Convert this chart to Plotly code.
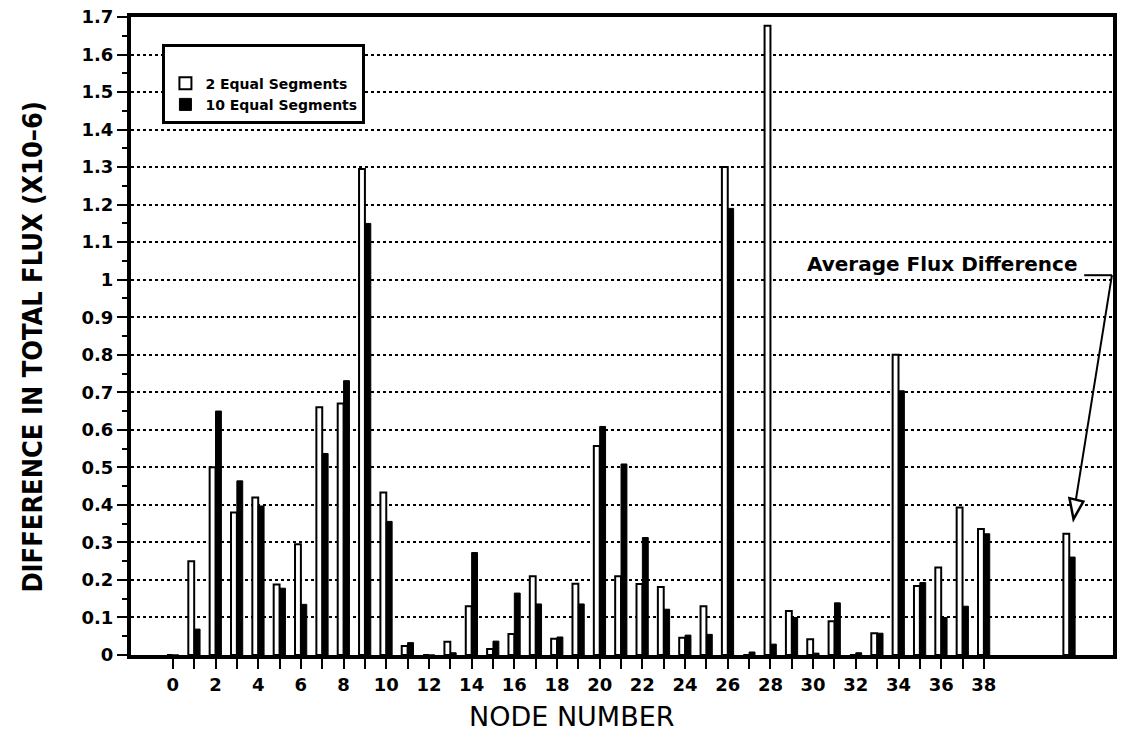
import plotly.graph_objects as go

# ---- data ----
nodes = list(range(0, 39))
avg_pos = 42
two_seg = [0.0, 0.25, 0.50, 0.38, 0.42, 0.188, 0.295, 0.66, 0.67, 1.295,
           0.433, 0.024, 0.0, 0.035, 0.13, 0.016, 0.056, 0.21, 0.043, 0.19,
           0.557, 0.21, 0.189, 0.181, 0.046, 0.13, 1.30, 0.0, 1.677, 0.117,
           0.042, 0.09, 0.0, 0.058, 0.80, 0.184, 0.233, 0.393, 0.336]
ten_seg = [0.0, 0.069, 0.65, 0.464, 0.397, 0.178, 0.135, 0.537, 0.731, 1.15,
           0.356, 0.033, 0.0, 0.006, 0.273, 0.037, 0.165, 0.136, 0.048, 0.136,
           0.609, 0.509, 0.313, 0.122, 0.053, 0.055, 1.19, 0.008, 0.029, 0.10,
           0.005, 0.139, 0.006, 0.058, 0.704, 0.193, 0.10, 0.13, 0.323]
avg_two = 0.323
avg_ten = 0.261

x_tickvals = list(range(0, 39))
x_ticktext = [str(i) if i % 2 == 0 else "" for i in x_tickvals]

xs = nodes + [avg_pos]
font_bold = "DejaVu Sans"

fig = go.Figure()
fig.add_trace(go.Bar(
    x=xs, y=two_seg + [avg_two], name="2 Equal Segments",
    marker=dict(color="white", line=dict(color="black", width=2)),
))
fig.add_trace(go.Bar(
    x=xs, y=ten_seg + [avg_ten], name="10 Equal Segments",
    marker=dict(color="black", line=dict(color="black", width=1)),
))

fig.update_layout(
    width=1123, height=736,
    margin=dict(l=131, r=6, t=15, b=81),
    paper_bgcolor="white", plot_bgcolor="white",
    barmode="group", bargap=0.45, bargroupgap=0.0,
    showlegend=True,
    legend=dict(
        x=0.032, y=0.958, xanchor="left", yanchor="top",
        bgcolor="white", bordercolor="black", borderwidth=3,
        font=dict(family=font_bold, size=14, color="black", weight="bold"),
        title=dict(text="&nbsp;", font=dict(size=16)),
        itemwidth=30, tracegroupgap=0,
    ),
    font=dict(family=font_bold, color="black"),
)

fig.update_xaxes(
    range=[-1.96, 44.05],
    tickmode="array", tickvals=x_tickvals, ticktext=x_ticktext,
    ticks="outside", ticklen=10, tickwidth=2, tickcolor="black",
    tickfont=dict(family=font_bold, size=18, color="black", weight="bold"),
    showline=True, linecolor="black", linewidth=4, mirror=True,
    showgrid=False, zeroline=False,
)
fig.update_yaxes(
    range=[0, 1.7], dtick=0.1, tick0=0,
    ticks="outside", ticklen=10, tickwidth=2, tickcolor="black",
    tickfont=dict(family=font_bold, size=18, color="black", weight="bold"),
    minor=dict(dtick=0.05, ticks="outside", ticklen=5, tickwidth=1.5, tickcolor="black"),
    showline=True, linecolor="black", linewidth=4, mirror=True,
    showgrid=True, gridcolor="black", gridwidth=2, griddash="dot",
    zeroline=False,
)

# axis titles
fig.add_annotation(
    text="DIFFERENCE IN TOTAL FLUX (X10–6)", textangle=-90,
    xref="paper", yref="paper", x=-0.1004, y=0.484,
    xanchor="center", yanchor="middle", showarrow=False,
    font=dict(family="DejaVu Sans Condensed, Liberation Sans, sans-serif",
              size=27, color="black", weight="bold"),
)
fig.add_annotation(
    text="NODE NUMBER",
    xref="paper", yref="paper", x=0.449, y=-0.097,
    xanchor="center", yanchor="middle", showarrow=False,
    font=dict(family="DejaVu Sans", size=27, color="black"),
)

# "Average Flux Difference" callout
fig.add_annotation(
    text="Average Flux Difference",
    xref="x", yref="y", x=42.5, y=1.043,
    xanchor="right", yanchor="middle", showarrow=False,
    font=dict(family=font_bold, size=20, color="black", weight="bold"),
)
fig.add_shape(type="line", xref="x", yref="y", x0=42.7, y0=1.012, x1=44.0, y1=1.012,
              line=dict(color="black", width=2))
fig.add_shape(type="line", xref="x", yref="y", x0=44.0, y0=1.012, x1=42.3, y1=0.41,
              line=dict(color="black", width=2))
fig.add_shape(type="path", xref="x", yref="y",
              path="M 42.01 0.418 L 42.66 0.409 L 42.20 0.362 Z",
              fillcolor="white", line=dict(color="black", width=2.5), layer="above")

fig.write_html("out.html")
